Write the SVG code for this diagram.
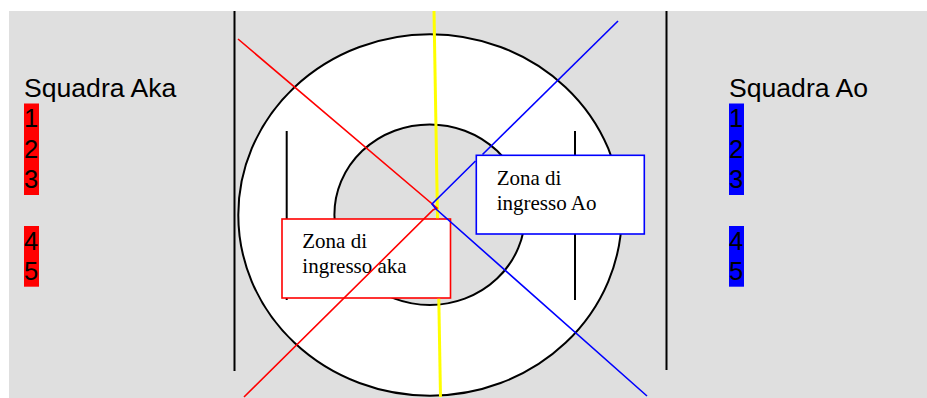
<svg xmlns="http://www.w3.org/2000/svg" width="927" height="398" viewBox="0 0 927 398">
<style>
.sans{font-family:"Liberation Sans",Arial,sans-serif;fill:#000}
.num{font-family:"Liberation Sans",Arial,sans-serif;font-size:25.5px;fill:#000}
.serif{font-family:"Liberation Serif","Times New Roman",serif;font-size:21px;fill:#000}
.blk{stroke:#000;stroke-width:2;fill:none}
.red{stroke:#ff0000;stroke-width:1.6;fill:none}
.blue{stroke:#0000ff;stroke-width:1.6;fill:none}
</style>
<rect x="0" y="0" width="927" height="398" fill="#fff"/>
<rect x="9" y="11" width="918" height="387" fill="#dfdfdf"/>
<g id="field">
<line class="blk" x1="234.5" y1="11" x2="234.5" y2="371"/>
<line class="blk" x1="666.5" y1="11" x2="666.5" y2="370"/>
<ellipse cx="430" cy="215" rx="191.7" ry="180.7" fill="#fff" stroke="#000" stroke-width="2"/>
<ellipse cx="429.7" cy="214.7" rx="95.3" ry="90.3" fill="#dfdfdf" stroke="#000" stroke-width="2"/>
<line class="blk" x1="286.7" y1="131" x2="286.7" y2="300"/>
<line class="blk" x1="575" y1="131" x2="575" y2="300"/>
</g>
<g id="squadra-aka">
<text class="sans" x="24" y="97" font-size="26.6">Squadra Aka</text>
<rect x="24" y="103.5" width="15" height="91.5" fill="#ff0000"/>
<rect x="24" y="226" width="15" height="60.7" fill="#ff0000"/>
<text class="num" x="24" y="127.3">1</text>
<text class="num" x="24" y="157.5">2</text>
<text class="num" x="24" y="188.3">3</text>
<text class="num" x="24" y="250">4</text>
<text class="num" x="24" y="280">5</text>
</g>
<g id="squadra-ao">
<text class="sans" x="729" y="97" font-size="26.6">Squadra Ao</text>
<rect x="729" y="103.5" width="15" height="91.5" fill="#0000ff"/>
<rect x="729" y="226" width="15" height="60.7" fill="#0000ff"/>
<text class="num" x="729" y="127.3">1</text>
<text class="num" x="729" y="157.5">2</text>
<text class="num" x="729" y="188.3">3</text>
<text class="num" x="729" y="250">4</text>
<text class="num" x="729" y="280">5</text>
</g>
<g id="zona-aka">
<rect x="282" y="219" width="168.5" height="79" fill="#fff" stroke="#ff0000" stroke-width="1.6"/>
<text class="serif" x="302.3" y="248.3">Zona di</text>
<text class="serif" x="302.3" y="273.3">ingresso aka</text>
</g>
<g id="zona-ao">
<rect x="476.3" y="155.3" width="168" height="78.7" fill="#fff" stroke="#0000ff" stroke-width="1.6"/>
<text class="serif" x="496.7" y="185">Zona di</text>
<text class="serif" x="496.7" y="210">ingresso Ao</text>
</g>
<g id="connectors">
<line x1="434" y1="11" x2="437.5" y2="218.2" stroke="#ffff00" stroke-width="3"/>
<line x1="438.8" y1="298.8" x2="440.5" y2="397" stroke="#ffff00" stroke-width="3"/>
<polyline class="red" points="238,39 437,208 433,210 244,397"/>
<line class="blue" x1="618" y1="21" x2="482.5" y2="154.5"/>
<polyline class="blue" points="475.5,161 432,204 436,209 647,396"/>
</g>
</svg>
